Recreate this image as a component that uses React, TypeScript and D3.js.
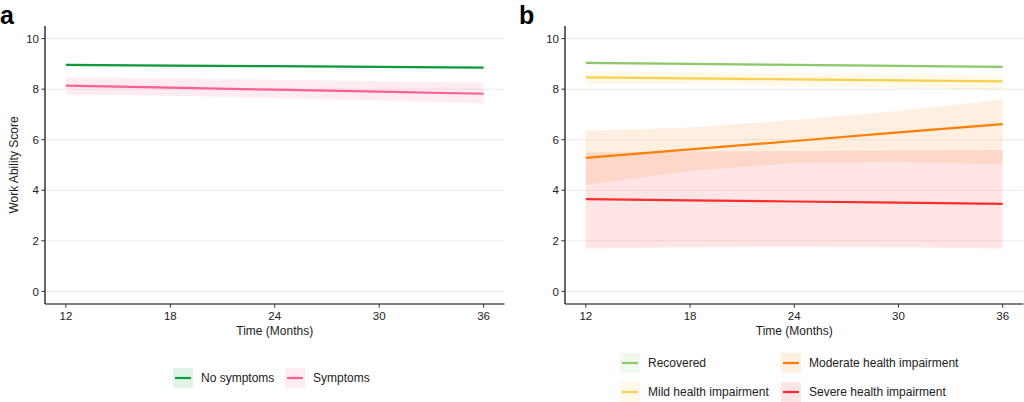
import * as d3 from 'd3';

// Time points (months) at which the model predictions were drawn
const months = [12, 18, 24, 30, 36];
const xTicks = [12, 18, 24, 30, 36];
const yTicks = [0, 2, 4, 6, 8, 10];

// Panel a
const noSymFit = [8.96, 8.93, 8.91, 8.88, 8.85];
const noSymLo = [8.91, 8.89, 8.87, 8.84, 8.80];
const noSymHi = [9.01, 8.98, 8.95, 8.92, 8.90];

const symFit = [8.14, 8.06, 7.98, 7.9, 7.82];
const symLo = [7.79, 7.74, 7.65, 7.55, 7.43];
const symHi = [8.47, 8.42, 8.37, 8.31, 8.26];

// Panel b
const recFit = [9.04, 9.0, 8.96, 8.92, 8.88];
const recLo = [8.98, 8.95, 8.91, 8.87, 8.82];
const recHi = [9.1, 9.05, 9.01, 8.97, 8.94];

const mildFit = [8.47, 8.43, 8.39, 8.35, 8.31];
const mildLo = [8.22, 8.19, 8.13, 8.05, 7.95];
const mildHi = [8.69, 8.67, 8.64, 8.6, 8.55];

const modFit = [5.28, 5.62, 5.95, 6.29, 6.62];
const modLo = [4.21, 4.76, 5.08, 5.12, 5.03];
const modHi = [6.36, 6.48, 6.78, 7.14, 7.59];

const sevFit = [3.65, 3.6, 3.555, 3.51, 3.46];
const sevLo = [1.7, 1.75, 1.77, 1.75, 1.7];
const sevHi = [5.49, 5.53, 5.55, 5.57, 5.59];

type Series = { name: string; color: string; fit: number[]; lo: number[]; hi: number[] };

const seriesA: Series[] = [
  { name: 'No symptoms', color: '#109a3b', fit: noSymFit, lo: noSymLo, hi: noSymHi },
  { name: 'Symptoms', color: '#ff5f96', fit: symFit, lo: symLo, hi: symHi },
];

const seriesB: Series[] = [
  { name: 'Recovered', color: '#8dc96a', fit: recFit, lo: recLo, hi: recHi },
  { name: 'Mild health impairment', color: '#f7d14b', fit: mildFit, lo: mildLo, hi: mildHi },
  { name: 'Moderate health impairment', color: '#ff7f00', fit: modFit, lo: modLo, hi: modHi },
  { name: 'Severe health impairment', color: '#ff2b2b', fit: sevFit, lo: sevLo, hi: sevHi },
];

const FONT = '"Liberation Sans", Arial, Helvetica, sans-serif';
const RIBBON_ALPHA = 0.12;

const Panel = ({ left, right, top, bottom, series, label, yTitle }: {
  left: number; right: number; top: number; bottom: number;
  series: Series[]; label: string; yTitle: boolean;
}) => {
  const x = d3.scaleLinear().domain([10.8, 37.2]).range([left, right]);
  const y = d3.scaleLinear().domain([-0.5, 10.5]).range([bottom, top]);

  const line = d3.line<number>().x((_, i) => x(months[i])).y(d => y(d));

  const mid = (left + right) / 2;

  return (
    <g>
      <text x={label === 'a' ? 0 : 519} y={24} fontSize={25} fontWeight="bold" fontFamily={FONT}>{label}</text>
      {/* grid */}
      {yTicks.map(t => (
        <line key={t} x1={left} x2={right} y1={y(t)} y2={y(t)} stroke="#ebebeb" strokeWidth={1} />
      ))}
      {/* ribbons */}
      {series.map(s => {
        const area = d3.area<number>()
          .x((_, i) => x(months[i]))
          .y0((_, i) => y(s.lo[i]))
          .y1((_, i) => y(s.hi[i]));
        return <path key={s.name + 'r'} d={area(s.fit) || ''} fill={s.color} fillOpacity={RIBBON_ALPHA} />;
      })}
      {series.map(s => (
        <path key={s.name} d={line(s.fit) || ''} fill="none" stroke={s.color} strokeWidth={2.2} />
      ))}
      {/* axes */}
      <line x1={left} x2={left} y1={top} y2={bottom} stroke="#000" strokeWidth={1.2} />
      <line x1={left} x2={right} y1={bottom} y2={bottom} stroke="#000" strokeWidth={1.2} />
      {yTicks.map(t => (
        <g key={t}>
          <line x1={left - 3.7} x2={left} y1={y(t)} y2={y(t)} stroke="#333" strokeWidth={1} />
          <text x={left - 6} y={y(t)} dy="0.36em" textAnchor="end" fontSize={11.5} fill="#222" fontFamily={FONT}>{t}</text>
        </g>
      ))}
      {xTicks.map(t => (
        <g key={t}>
          <line x1={x(t)} x2={x(t)} y1={bottom} y2={bottom + 3.7} stroke="#333" strokeWidth={1} />
          <text x={x(t)} y={bottom + 16} textAnchor="middle" fontSize={11.5} fill="#222" fontFamily={FONT}>{t}</text>
        </g>
      ))}
      <text x={mid} y={bottom + 31} textAnchor="middle" fontSize={12} fill="#222" fontFamily={FONT}>Time (Months)</text>
      {yTitle && (
        <text transform={`translate(18,${(top + bottom) / 2}) rotate(-90)`} textAnchor="middle" fontSize={12} fill="#222" fontFamily={FONT}>Work Ability Score</text>
      )}
    </g>
  );
};

const LegendKey = ({ x, y, s }: { x: number; y: number; s: Series }) => (
  <g>
    <rect x={x} y={y - 10} width={20} height={20} fill={s.color} fillOpacity={RIBBON_ALPHA} />
    <line x1={x + 2} x2={x + 18} y1={y} y2={y} stroke={s.color} strokeWidth={2.2} />
    <text x={x + 28} y={y} dy="0.36em" fontSize={12} fill="#222" fontFamily={FONT}>{s.name}</text>
  </g>
);

export default function App() {
  return (
    <svg width={1024} height={402} style={{ position: 'absolute', left: 0, top: 0, background: '#fff' }}>
      <Panel left={45} right={504.5} top={26} bottom={304} series={seriesA} label="a" yTitle />
      <Panel left={565} right={1023.5} top={26} bottom={304} series={seriesB} label="b" yTitle={false} />
      <LegendKey x={173} y={378} s={seriesA[0]} />
      <LegendKey x={285} y={378} s={seriesA[1]} />
      <LegendKey x={620} y={363} s={seriesB[0]} />
      <LegendKey x={620} y={392} s={seriesB[1]} />
      <LegendKey x={781} y={363} s={seriesB[2]} />
      <LegendKey x={781} y={392} s={seriesB[3]} />
    </svg>
  );
}
